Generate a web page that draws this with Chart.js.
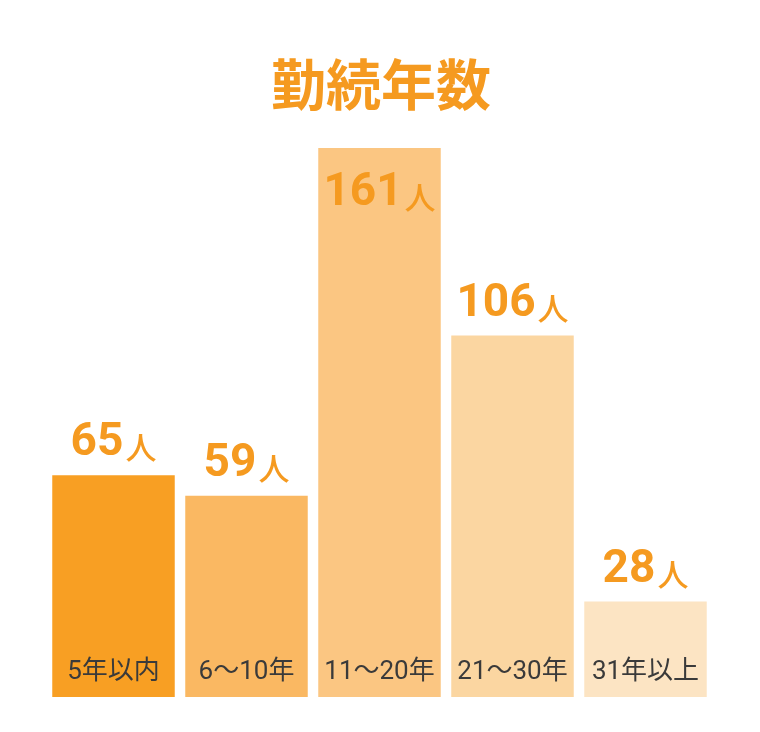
<!DOCTYPE html>
<html><head><meta charset="utf-8">
<script src="https://cdn.jsdelivr.net/npm/chart.js@4"></script>
<style>html,body{margin:0;padding:0;background:#fff}#wrap{width:760px;height:732px}</style>
</head><body><div id="wrap"><canvas id="c" width="760" height="732"></canvas></div>
<script>
const title = "勤続年数";
const categories = ["5年以内", "6〜10年", "11〜20年", "21〜30年", "31年以上"];
const values = [65, 59, 161, 106, 28];
const unit = "人";
const barColors = ["#F89F23", "#FAB862", "#FBC682", "#FBD6A1", "#FCE4C3"];
const accent = "#F59A20";

const labelPlugin = {
  id: "labels",
  afterDatasetsDraw(chart) {
    const ctx = chart.ctx;
    const meta = chart.getDatasetMeta(0);
    ctx.save();
    meta.data.forEach((bar, i) => {
      const num = String(values[i]);
      ctx.font = 'bold 46px Roboto';
      const wNum = ctx.measureText(num).width;
      ctx.font = '500 31px "Noto Sans CJK JP"';
      const wUnit = ctx.measureText(unit).width;
      const gap = 2;
      const total = wNum + gap + wUnit;
      const start = bar.x - total / 2;
      const inside = (bar.y - chart.chartArea.top) < 60;
      const base = inside ? bar.y + 57 : bar.y - 20;
      ctx.fillStyle = accent;
      ctx.textAlign = "left";
      ctx.textBaseline = "alphabetic";
      ctx.font = 'bold 46px Roboto';
      ctx.fillText(num, start, base);
      ctx.font = '500 31px "Noto Sans CJK JP"';
      ctx.fillText(unit, start + wNum + gap, base + 4);
      // category
      ctx.fillStyle = "#3a3a3a";
      ctx.textAlign = "center";
      ctx.textBaseline = "middle";
      ctx.font = '26px Roboto, "Noto Sans CJK JP"';
      ctx.fillText(categories[i], bar.x, bar.base - 25);
    });
    ctx.fillStyle = accent;
    ctx.textAlign = "center";
    ctx.textBaseline = "middle";
    ctx.font = 'bold 55px "Noto Sans CJK JP"';
    ctx.fillText(title, 381, 84);
    ctx.restore();
  }
};

new Chart(document.getElementById("c"), {
  type: "bar",
  data: {
    labels: categories,
    datasets: [{
      data: values,
      backgroundColor: barColors,
      borderWidth: 0,
      categoryPercentage: 1,
      barPercentage: 0.921
    }]
  },
  options: {
    responsive: false,
    animation: false,
    layout: { padding: { top: 148, bottom: 35, left: 47, right: 48 } },
    plugins: { legend: { display: false }, tooltip: { enabled: false }, title: { display: false } },
    scales: {
      x: { display: false },
      y: { display: false, min: 0, max: 161 }
    }
  },
  plugins: [labelPlugin]
});
</script>
</body></html>
